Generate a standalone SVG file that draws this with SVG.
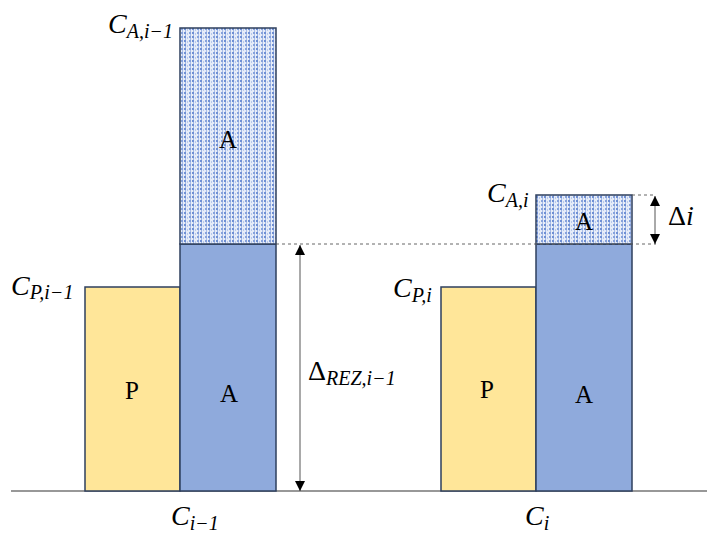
<svg xmlns="http://www.w3.org/2000/svg" width="707" height="533" viewBox="0 0 707 533">
<defs>
<pattern id="hatch" patternUnits="userSpaceOnUse" width="8" height="4">
<rect width="8" height="4" fill="#e6ecf8"/>
<rect x="0" y="0" width="2" height="2" fill="#6f8fd3"/>
<rect x="1" y="2" width="1" height="2" fill="#9fb6e4"/>
<rect x="3" y="1" width="1" height="2" fill="#b8c9ec"/>
<rect x="5" y="0" width="2" height="2" fill="#86a2dc"/>
<rect x="6" y="2" width="1" height="2" fill="#a9bde8"/>
</pattern>
<marker id="ah" viewBox="0 0 10 10" refX="10" refY="5" markerWidth="10" markerHeight="10" markerUnits="userSpaceOnUse" orient="auto-start-reverse">
<path d="M0,0 L10,5 L0,10 z" fill="#000"/>
</marker>
<style>
.p{fill:#FFE699;stroke:#2E3F5E;stroke-width:1.5}
.a{fill:#8FAADC;stroke:#2E3F5E;stroke-width:1.5}
.h{fill:url(#hatch);stroke:#2E3F5E;stroke-width:1.5}
.lbl{font-family:"Liberation Serif","Times New Roman",serif;font-size:25px;fill:#000;text-anchor:middle}
.m{font-family:"Liberation Serif","Times New Roman",serif;font-style:italic;font-size:28px;fill:#000}
.s{font-size:20px}
.dash{stroke:#666;stroke-width:1;stroke-dasharray:3,3;fill:none}
.arr{stroke:#555;stroke-width:1;fill:none}
</style>
</defs>
<line x1="11" y1="491" x2="707" y2="491" stroke="#333" stroke-width="1.2"/>
<g id="left-P"><rect class="p" x="85" y="287" width="95" height="204"/><text class="lbl" x="132" y="399">P</text></g>
<g id="left-A"><rect class="a" x="180" y="244" width="96" height="247"/><text class="lbl" x="229" y="402">A</text></g>
<g id="left-A-hatched"><rect class="h" x="180" y="28" width="96" height="216"/><text class="lbl" x="228" y="148">A</text></g>
<g id="right-P"><rect class="p" x="441" y="287" width="95" height="204"/><text class="lbl" x="487" y="398">P</text></g>
<g id="right-A"><rect class="a" x="536" y="244" width="96" height="247"/><text class="lbl" x="584" y="403">A</text></g>
<g id="right-A-hatched"><rect class="h" x="536" y="195" width="96" height="49"/><text class="lbl" x="584" y="230">A</text></g>
<g id="connectors">
<line class="dash" x1="276" y1="244" x2="656" y2="244"/>
<line class="dash" x1="632" y1="195" x2="656" y2="195"/>
<line class="arr" x1="300" y1="245" x2="300" y2="491" marker-start="url(#ah)" marker-end="url(#ah)"/>
<line class="arr" x1="655" y1="196" x2="655" y2="244" marker-start="url(#ah)" marker-end="url(#ah)"/>
</g>
<g id="labels">
<text class="m" x="108" y="33">C<tspan class="s" dy="5">A,i−1</tspan></text>
<text class="m" x="11" y="295">C<tspan class="s" dy="4">P,i−1</tspan></text>
<text class="m" x="393" y="297">C<tspan class="s" dy="5">P,i</tspan></text>
<text class="m" x="487" y="202">C<tspan class="s" dy="5">A,i</tspan></text>
<text class="m" x="308" y="380"><tspan font-style="normal">Δ</tspan><tspan class="s" dy="5">REZ,i−1</tspan></text>
<text class="m" x="668" y="225"><tspan font-style="normal">Δ</tspan>i</text>
<text class="m" x="171" y="525">C<tspan class="s" dy="5">i−1</tspan></text>
<text class="m" x="525" y="525">C<tspan class="s" dy="5">i</tspan></text>
</g>
</svg>
